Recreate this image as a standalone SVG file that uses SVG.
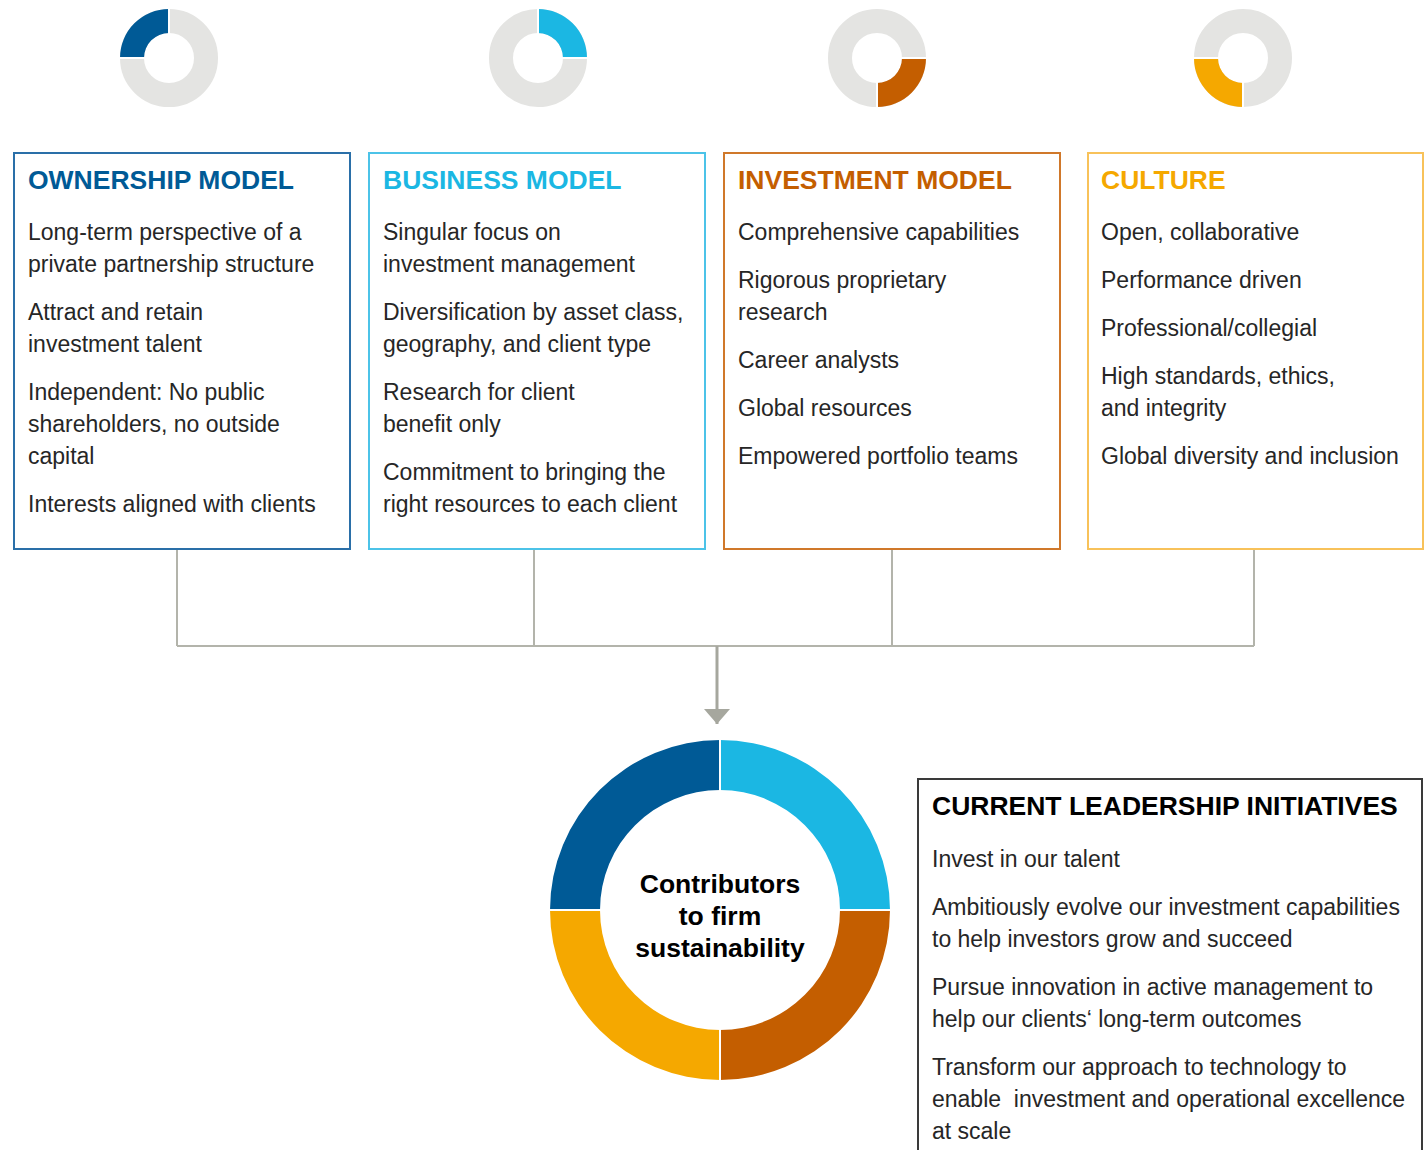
<svg xmlns="http://www.w3.org/2000/svg" width="1424" height="1150" viewBox="0 0 1424 1150">
<style>
.body{font-family:"Liberation Sans",Arial,sans-serif;font-size:23px;fill:#262626}
.hd{font-family:"Liberation Sans",Arial,sans-serif;font-size:26.5px;font-weight:bold}
.box{fill:#fff;stroke-width:2}
.conn{fill:none;stroke:#b3b4ab;stroke-width:2}
.sep{stroke:#fff;stroke-width:2}
</style>
<defs>
<marker id="arr" viewBox="0 0 15 26" refX="15" refY="13" markerWidth="15" markerHeight="26" markerUnits="userSpaceOnUse" orient="auto">
<path d="M0,0 L15,13 L0,26 Z" fill="#a6a79e"/>
</marker>
</defs>
<rect width="1424" height="1150" fill="#fff"/>

<g id="donut-ownership">
<circle cx="169" cy="58" r="37" fill="none" stroke="#e4e4e2" stroke-width="24"/>
<path d="M169,9 A49,49 0 0 0 120,58 L144,58 A25,25 0 0 1 169,33 Z" fill="#005a96"/>
<path class="sep" d="M169,8 V34 M119,58 H145"/>
</g>
<g id="donut-business">
<circle cx="538" cy="58" r="37" fill="none" stroke="#e4e4e2" stroke-width="24"/>
<path d="M538,9 A49,49 0 0 1 587,58 L563,58 A25,25 0 0 0 538,33 Z" fill="#1bb7e3"/>
<path class="sep" d="M538,8 V34 M562,58 H588"/>
</g>
<g id="donut-investment">
<circle cx="877" cy="58" r="37" fill="none" stroke="#e4e4e2" stroke-width="24"/>
<path d="M926,58 A49,49 0 0 1 877,107 L877,83 A25,25 0 0 0 902,58 Z" fill="#c45e00"/>
<path class="sep" d="M877,82 V108 M901,58 H927"/>
</g>
<g id="donut-culture">
<circle cx="1243" cy="58" r="37" fill="none" stroke="#e4e4e2" stroke-width="24"/>
<path d="M1243,107 A49,49 0 0 1 1194,58 L1218,58 A25,25 0 0 0 1243,83 Z" fill="#f5a800"/>
<path class="sep" d="M1243,82 V108 M1193,58 H1219"/>
</g>

<g id="connectors">
<path class="conn" d="M177,550 V646 M534,550 V646 M892,550 V646 M1254,550 V646 M177,646 H1254"/>
<path d="M717,646 V724" fill="none" stroke="#a6a79e" stroke-width="3" marker-end="url(#arr)"/>
</g>

<g id="ownership-model">
<rect class="box" x="14" y="153" width="336" height="396" stroke="#2a6fa8"/>
<text class="hd" x="28" y="189" fill="#005a96">OWNERSHIP MODEL</text>
<text class="body" x="28" y="240">Long-term perspective of a</text>
<text class="body" x="28" y="272">private partnership structure</text>
<text class="body" x="28" y="320">Attract and retain</text>
<text class="body" x="28" y="352">investment talent</text>
<text class="body" x="28" y="400">Independent: No public</text>
<text class="body" x="28" y="432">shareholders, no outside</text>
<text class="body" x="28" y="464">capital</text>
<text class="body" x="28" y="512">Interests aligned with clients</text>
</g>

<g id="business-model">
<rect class="box" x="369" y="153" width="336" height="396" stroke="#4cc3e8"/>
<text class="hd" x="383" y="189" fill="#1bb7e3">BUSINESS MODEL</text>
<text class="body" x="383" y="240">Singular focus on</text>
<text class="body" x="383" y="272">investment management</text>
<text class="body" x="383" y="320">Diversification by asset class,</text>
<text class="body" x="383" y="352">geography, and client type</text>
<text class="body" x="383" y="400">Research for client</text>
<text class="body" x="383" y="432">benefit only</text>
<text class="body" x="383" y="480">Commitment to bringing the</text>
<text class="body" x="383" y="512">right resources to each client</text>
</g>

<g id="investment-model">
<rect class="box" x="724" y="153" width="336" height="396" stroke="#d0782a"/>
<text class="hd" x="738" y="189" fill="#c45e00">INVESTMENT MODEL</text>
<text class="body" x="738" y="240">Comprehensive capabilities</text>
<text class="body" x="738" y="288">Rigorous proprietary</text>
<text class="body" x="738" y="320">research</text>
<text class="body" x="738" y="368">Career analysts</text>
<text class="body" x="738" y="416">Global resources</text>
<text class="body" x="738" y="464">Empowered portfolio teams</text>
</g>

<g id="culture">
<rect class="box" x="1088" y="153" width="335" height="396" stroke="#f8c25a"/>
<text class="hd" x="1101" y="189" fill="#f5a800">CULTURE</text>
<text class="body" x="1101" y="240">Open, collaborative</text>
<text class="body" x="1101" y="288">Performance driven</text>
<text class="body" x="1101" y="336">Professional/collegial</text>
<text class="body" x="1101" y="384">High standards, ethics,</text>
<text class="body" x="1101" y="416">and integrity</text>
<text class="body" x="1101" y="464">Global diversity and inclusion</text>
</g>

<g id="sustainability">
<path d="M720,740 A170,170 0 0 0 550,910 L600,910 A120,120 0 0 1 720,790 Z" fill="#005a96"/>
<path d="M720,740 A170,170 0 0 1 890,910 L840,910 A120,120 0 0 0 720,790 Z" fill="#1bb7e3"/>
<path d="M890,910 A170,170 0 0 1 720,1080 L720,1030 A120,120 0 0 0 840,910 Z" fill="#c45e00"/>
<path d="M720,1080 A170,170 0 0 1 550,910 L600,910 A120,120 0 0 0 720,1030 Z" fill="#f5a800"/>
<path class="sep" d="M720,738 V792 M720,1028 V1082 M548,910 H602 M838,910 H892"/>
<text class="hd" x="720" y="893" text-anchor="middle" fill="#000">Contributors</text>
<text class="hd" x="720" y="925" text-anchor="middle" fill="#000">to firm</text>
<text class="hd" x="720" y="957" text-anchor="middle" fill="#000">sustainability</text>
</g>

<g id="leadership-initiatives">
<rect class="box" x="918" y="779" width="504" height="390" stroke="#3a3a3a"/>
<text class="hd" x="932" y="815" fill="#000">CURRENT LEADERSHIP INITIATIVES</text>
<text class="body" x="932" y="867">Invest in our talent</text>
<text class="body" x="932" y="915">Ambitiously evolve our investment capabilities</text>
<text class="body" x="932" y="947">to help investors grow and succeed</text>
<text class="body" x="932" y="995">Pursue innovation in active management to</text>
<text class="body" x="932" y="1027">help our clients‘ long-term outcomes</text>
<text class="body" x="932" y="1075">Transform our approach to technology to</text>
<text class="body" x="932" y="1107" style="white-space:pre">enable  investment and operational excellence</text>
<text class="body" x="932" y="1139">at scale</text>
</g>
</svg>
